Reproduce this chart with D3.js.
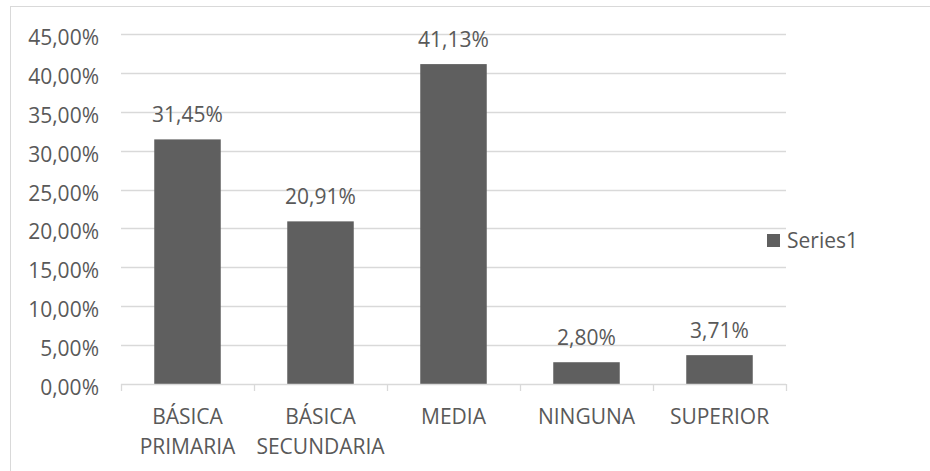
<!DOCTYPE html>
<html>
<head>
<meta charset="utf-8">
<script src="https://cdn.jsdelivr.net/npm/d3@7"></script>
<style>
  html, body { margin: 0; padding: 0; background: #fff; }
  svg { display: block; }
  text { font-family: "Open Sans", "Liberation Sans", sans-serif; fill: #595959; }
</style>
</head>
<body>
<svg id="chart" width="930" height="471"></svg>
<script>
const categories = [["BÁSICA", "PRIMARIA"], ["BÁSICA", "SECUNDARIA"], ["MEDIA"], ["NINGUNA"], ["SUPERIOR"]];
const values = [31.45, 20.91, 41.13, 2.80, 3.71];
const valueLabels = ["31,45%", "20,91%", "41,13%", "2,80%", "3,71%"];
const yTicks = [0, 5, 10, 15, 20, 25, 30, 35, 40, 45];
const yTickLabels = ["0,00%", "5,00%", "10,00%", "15,00%", "20,00%", "25,00%", "30,00%", "35,00%", "40,00%", "45,00%"];
const seriesName = "Series1";

const svg = d3.select("#chart");
const fontSize = 21;

// outer chart border
svg.append("rect")
  .attr("x", 10.5).attr("y", 6.5)
  .attr("width", 940).attr("height", 480)
  .attr("fill", "none").attr("stroke", "#d9d9d9").attr("stroke-width", 1);

const x = d3.scaleBand()
  .domain(d3.range(categories.length))
  .range([121, 786])
  .paddingInner(0.5).paddingOuter(0.25);

const y = d3.scaleLinear().domain([0, 45]).range([384, 34]);

// gridlines
svg.append("g").selectAll("line")
  .data(yTicks.filter(t => t > 0))
  .join("line")
  .attr("x1", 121).attr("x2", 786)
  .attr("y1", d => Math.round(y(d)) + 0.5).attr("y2", d => Math.round(y(d)) + 0.5)
  .attr("stroke", "#d9d9d9").attr("stroke-width", 1.3);

// y axis labels
const yAxis = d3.axisLeft(y).tickValues(yTicks)
  .tickFormat((d, i) => yTickLabels[i]).tickSize(0).tickPadding(0);
const yg = svg.append("g").attr("transform", "translate(99,0)").call(yAxis);
yg.select(".domain").remove();
yg.selectAll("text")
  .attr("font-size", fontSize)
  .attr("font-family", "Open Sans")
  .attr("fill", "#595959")
  .attr("dy", "0.5em");

// bars
svg.append("g").selectAll("rect")
  .data(values)
  .join("rect")
  .attr("x", (d, i) => x(i))
  .attr("width", x.bandwidth())
  .attr("y", d => y(d))
  .attr("height", d => y(0) - y(d))
  .attr("fill", "#5f5f5f");

// x axis line and ticks
const bounds = d3.range(categories.length + 1).map(i => 121 + i * (786 - 121) / categories.length);
svg.append("line")
  .attr("x1", 121).attr("x2", 786)
  .attr("y1", 384.5).attr("y2", 384.5)
  .attr("stroke", "#d9d9d9").attr("stroke-width", 1.3);
svg.append("g").selectAll("line")
  .data(bounds)
  .join("line")
  .attr("x1", d => Math.round(d) + 0.5).attr("x2", d => Math.round(d) + 0.5)
  .attr("y1", 384).attr("y2", 391)
  .attr("stroke", "#d9d9d9").attr("stroke-width", 1.3);

// category labels
const cg = svg.append("g").selectAll("text")
  .data(categories)
  .join("text")
  .attr("text-anchor", "middle")
  .attr("font-size", fontSize)
  .attr("x", (d, i) => x(i) + x.bandwidth() / 2)
  .attr("y", 424);
cg.selectAll("tspan")
  .data(d => d)
  .join("tspan")
  .attr("x", function() { return this.parentNode.getAttribute("x"); })
  .attr("dy", (d, i) => i === 0 ? 0 : 30)
  .text(d => d);

// data labels
svg.append("g").selectAll("text")
  .data(values)
  .join("text")
  .attr("text-anchor", "middle")
  .attr("font-size", fontSize)
  .attr("x", (d, i) => x(i) + x.bandwidth() / 2)
  .attr("y", d => y(d) - 17)
  .text((d, i) => valueLabels[i]);

// legend
const lg = svg.append("g");
lg.append("rect").attr("x", 767).attr("y", 234).attr("width", 13).attr("height", 13).attr("fill", "#5f5f5f");
lg.append("text").attr("x", 787).attr("y", 248).attr("font-size", fontSize).text(seriesName);
</script>
</body>
</html>
